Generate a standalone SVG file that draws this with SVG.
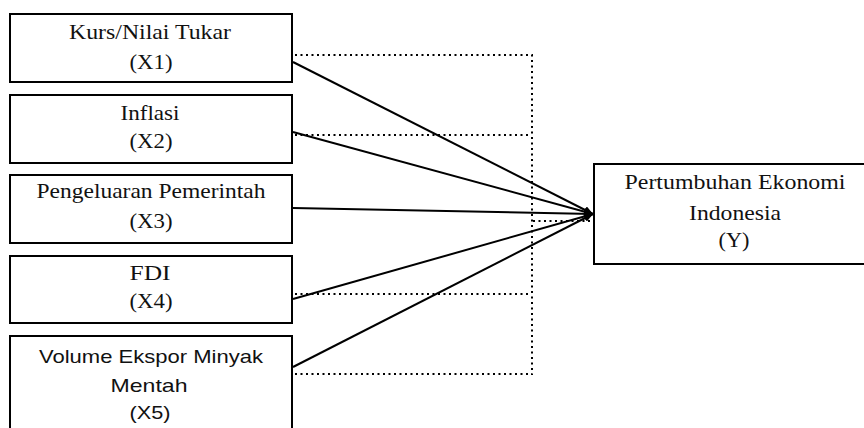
<svg xmlns="http://www.w3.org/2000/svg" width="864" height="428" viewBox="0 0 864 428">
<style>
.box{fill:#fff;stroke:#000;stroke-width:2}
.t{font-family:'Liberation Serif','Times New Roman','DejaVu Serif',serif;font-size:22px;fill:#111;text-anchor:middle}
.s{font-family:'Liberation Sans',Arial,sans-serif;font-size:19px;fill:#111;text-anchor:middle}
.solid{stroke:#000;stroke-width:2;fill:none}
.dot{stroke:#000;stroke-width:2;fill:none;stroke-dasharray:2 3.5}
</style>
<defs>
<marker id="ah" markerWidth="9" markerHeight="8" refX="9" refY="4" orient="auto" markerUnits="userSpaceOnUse">
<path d="M0,0 L9,4 L0,8 z" fill="#000"/>
</marker>
</defs>
<rect width="864" height="428" fill="#fff"/>
<g id="connectors">
<path class="dot" d="M295,55 H532 V375"/>
<path class="dot" d="M295,135 H528"/>
<path class="dot" d="M533,221 H590"/>
<path class="dot" d="M295,294 H528"/>
<path class="dot" d="M295,374 H532"/>
<line class="solid" x1="293" y1="62" x2="593" y2="214" marker-end="url(#ah)"/>
<line class="solid" x1="293" y1="132" x2="593" y2="214" marker-end="url(#ah)"/>
<line class="solid" x1="293" y1="208" x2="593" y2="214" marker-end="url(#ah)"/>
<line class="solid" x1="293" y1="299" x2="593" y2="214" marker-end="url(#ah)"/>
<line class="solid" x1="293" y1="367" x2="593" y2="214" marker-end="url(#ah)"/>
</g>
<g id="x1">
<rect class="box" x="10" y="14" width="282" height="68"/>
<text class="t" x="150" y="39" textLength="162" lengthAdjust="spacingAndGlyphs">Kurs/Nilai Tukar</text>
<text class="t" x="151" y="69" textLength="43" lengthAdjust="spacingAndGlyphs">(X1)</text>
</g>
<g id="x2">
<rect class="box" x="10" y="95" width="282" height="68"/>
<text class="t" x="150" y="120" textLength="59" lengthAdjust="spacingAndGlyphs">Inflasi</text>
<text class="t" x="151" y="148" textLength="43" lengthAdjust="spacingAndGlyphs">(X2)</text>
</g>
<g id="x3">
<rect class="box" x="10" y="175" width="282" height="68"/>
<text class="t" x="151" y="198" textLength="229" lengthAdjust="spacingAndGlyphs">Pengeluaran Pemerintah</text>
<text class="t" x="151" y="228" textLength="43" lengthAdjust="spacingAndGlyphs">(X3)</text>
</g>
<g id="x4">
<rect class="box" x="10" y="256" width="282" height="67"/>
<text class="t" x="150" y="280" textLength="41" lengthAdjust="spacingAndGlyphs">FDI</text>
<text class="t" x="151" y="308" textLength="43" lengthAdjust="spacingAndGlyphs">(X4)</text>
</g>
<g id="x5">
<rect class="box" x="10" y="336" width="282" height="100"/>
<text class="s" x="151" y="363" textLength="224" lengthAdjust="spacingAndGlyphs">Volume Ekspor Minyak</text>
<text class="s" x="149" y="392" textLength="77" lengthAdjust="spacingAndGlyphs">Mentah</text>
<text class="s" x="150" y="419" textLength="41" lengthAdjust="spacingAndGlyphs">(X5)</text>
</g>
<g id="y">
<rect class="box" x="594" y="164" width="280" height="100"/>
<text class="t" x="735" y="189" textLength="221" lengthAdjust="spacingAndGlyphs">Pertumbuhan Ekonomi</text>
<text class="t" x="735" y="220" textLength="92" lengthAdjust="spacingAndGlyphs">Indonesia</text>
<text class="t" x="734" y="247" textLength="31" lengthAdjust="spacingAndGlyphs">(Y)</text>
</g>
</svg>
